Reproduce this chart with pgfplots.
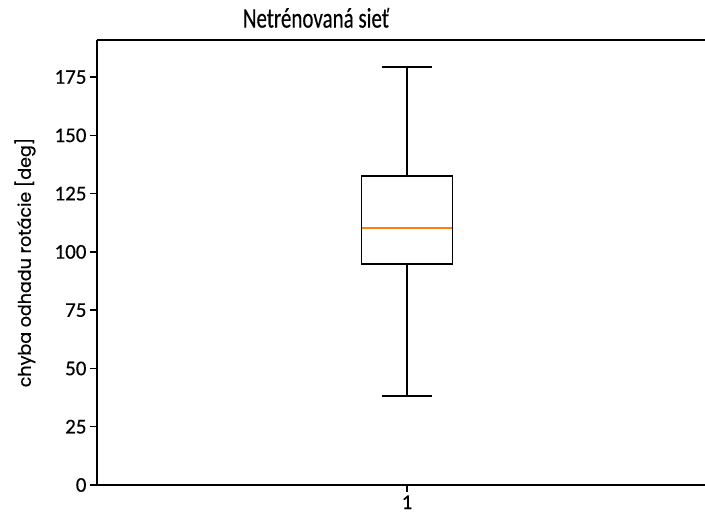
\documentclass[border=0pt]{standalone}
\usepackage{pgfplots}
\pgfplotsset{compat=1.18}
\usepackage{fontspec}
\setmainfont{Carlito}[FakeBold=0.35]
\newfontfamily\ylabfont{Poppins}[FakeBold=0.6]
\definecolor{mplorange}{HTML}{FF7F0E}
\begin{document}
\begin{tikzpicture}
\path[use as bounding box] (-97pt,-32pt) rectangle (608pt,485pt);
\begin{axis}[
  at={(0pt,0pt)}, anchor=south west,
  scale only axis, width=608pt, height=445pt,
  xmin=-0.703, xmax=2.637, ymin=0, ymax=190.9,
  axis y line=left, axis x line=box,
  y axis line style={-},
  axis line style={line width=2pt},
  xtick={1}, ytick={0,25,...,175},
  xtick pos=bottom,
  tick align=outside, major tick length=7pt,
  tick style={black, line width=1.5pt},
  /pgf/number format/assume math mode=true,
  ticklabel style={font=\fontsize{21}{24}\selectfont},
  title={\scalebox{1}[1.35]{\fontsize{21}{24}\selectfont Netrénovaná sieť}},
  title style={at={(axis description cs:0.3602,1)}, anchor=south, yshift=6pt, inner sep=0pt},
  ylabel={\ylabfont\fontsize{17.5}{20}\selectfont chyba odhadu rotácie [deg]},
  ylabel style={at={(axis description cs:-0.1184,0.5)}, anchor=center},
]
% box (Q1 = 94.8, Q3 = 132.6)
\addplot[black, line width=1.7pt, line join=miter] coordinates {(0.75,94.8) (1.25,94.8) (1.25,132.6) (0.75,132.6) (0.75,94.8)};
% whiskers
\addplot[black, line width=1.7pt] coordinates {(1,132.6) (1,179.3)};
\addplot[black, line width=1.7pt] coordinates {(1,94.8) (1,38.2)};
% caps
\addplot[black, line width=1.7pt] coordinates {(0.8625,179.3) (1.1375,179.3)};
\addplot[black, line width=1.7pt] coordinates {(0.8625,38.2) (1.1375,38.2)};
% median
\addplot[mplorange, line width=1.7pt] coordinates {(0.755,110.3) (1.245,110.3)};
\end{axis}
\end{tikzpicture}
\end{document}
